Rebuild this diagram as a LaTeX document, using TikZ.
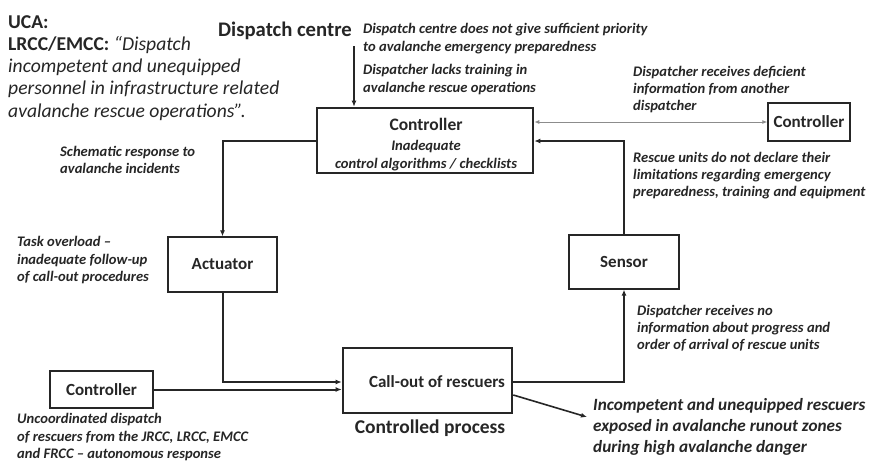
\documentclass[tikz,border=0pt]{standalone}
\usepackage{fontspec}
\setmainfont{Carlito}
\usetikzlibrary{arrows.meta}
\definecolor{ink}{HTML}{262626}
\definecolor{thin}{HTML}{8C8C8C}
\tikzset{
  heavybox/.style={draw=ink, line width=2.6pt, inner sep=0pt},
  lightbox/.style={draw=ink, line width=1.3pt, inner sep=0pt},
  boxtext/.style={inner sep=0pt, text=ink, font=\fontsize{17}{20}\selectfont\bfseries},
  flow/.style={draw=ink, line width=2pt, -{Latex[length=6pt,width=5pt]}},
  infoline/.style={draw=thin, line width=0.9pt, {Latex[length=5pt,width=4pt]}-{Latex[length=5pt,width=4pt]}},
  note/.style={anchor=north west, inner sep=0pt, align=left, text=ink,
    font=\fontsize{14.6}{#1}\selectfont\bfseries\itshape},
  note/.default=17.5,
}
\begin{document}
\begin{tikzpicture}[x=1pt,y=-1pt]
\useasboundingbox[fill=white] (0,0) rectangle (870,461);

% control structure boxes
\node[heavybox, minimum width=216pt, minimum height=65pt] (ctrl) at (425,140.5) {};
\node[lightbox, minimum width=109pt, minimum height=55pt] (act) at (222.5,264.5) {};
\node[lightbox, minimum width=110pt, minimum height=54pt] (sens) at (624,262) {};
\node[lightbox, minimum width=82pt, minimum height=38pt] (rctrl) at (809,122) {};
\node[lightbox, minimum width=103pt, minimum height=37pt] (lctrl) at (101.5,389.5) {};
\node[heavybox, minimum width=169pt, minimum height=65pt] (proc) at (427.5,380.5) {};

% box labels
\node[boxtext, font=\fontsize{17.5}{20}\selectfont\bfseries] (ctrl-title) at (426,124) {Controller};
\node[inner sep=0pt, align=center, text=ink, font=\fontsize{14.6}{18}\selectfont\bfseries\itshape]
  (ctrl-flaw) at (426,156) {Inadequate\\control algorithms / checklists};
\node[boxtext] (act-title) at (act) {Actuator};
\node[boxtext] (sens-title) at (sens) {Sensor};
\node[boxtext] (rctrl-title) at (rctrl) {Controller};
\node[boxtext] (lctrl-title) at (lctrl) {Controller};
\node[boxtext] (proc-title) at (437,382) {Call-out of rescuers};
\node[inner sep=0pt, text=ink, font=\fontsize{19.5}{22}\selectfont\bfseries]
  (proc-caption) at (430,428) {Controlled process};
\node[anchor=west, inner sep=0pt, text=ink, font=\fontsize{20.7}{22}\selectfont\bfseries]
  (centre) at (218,31) {Dispatch centre};

% unsafe control action statement
\node[anchor=north west, inner sep=0pt, align=left, text=ink,
  font=\fontsize{19.6}{22.3}\selectfont] (uca) at (8,15)
  {\textbf{UCA:}\\\textbf{LRCC/EMCC:} \textit{“Dispatch}\\
   \textit{incompetent and unequipped}\\
   \textit{personnel in infrastructure related}\\
   \textit{avalanche rescue operations”.}};

% causal factors
\node[note=18] (f1) at (363,23.5) {Dispatch centre does not give sufficient priority\\to avalanche emergency preparedness};
\node[note=18] (f2) at (363,64.5) {Dispatcher lacks training in\\avalanche rescue operations};
\node[note=17] (f3) at (633,66.5) {Dispatcher receives deficient\\information from another\\dispatcher};
\node[note=17] (f4) at (633,152.5) {Rescue units do not declare their\\limitations regarding emergency\\preparedness, training and equipment};
\node[note=17] (f5) at (60,146.5) {Schematic response to\\avalanche incidents};
\node[note=17.5] (f6) at (17,236.5) {Task overload --\\inadequate follow-up\\of call-out procedures};
\node[note=17] (f7) at (637,305.5) {Dispatcher receives no\\information about progress and\\order of arrival of rescue units};
\node[note=17.5] (f8) at (17,413.5) {Uncoordinated dispatch\\of rescuers from the JRCC, LRCC, EMCC\\and FRCC -- autonomous response};
\node[anchor=north west, inner sep=0pt, align=left, text=ink,
  font=\fontsize{17.2}{21}\selectfont\bfseries\itshape] (hazard) at (593,398)
  {Incompetent and unequipped rescuers\\exposed in avalanche runout zones\\during high avalanche danger};

% connectors
\coordinate (dsrc) at (354,46);
\draw[flow] (dsrc) -- (dsrc |- ctrl.north);
\draw[infoline] (ctrl.east |- rctrl.west) -- (rctrl.west);
\coordinate (fb) at (624,141);
\draw[flow] (sens.north) -- (fb) -- (ctrl.east |- fb);
\coordinate (ca) at (222.5,141);
\draw[flow] (ctrl.west |- ca) -- (ca) -- (act.north);
\coordinate (cb) at (222.5,382);
\draw[flow] (act.south) -- (cb) -- (proc.west |- cb);
\draw[flow] (lctrl.east) -- (proc.west |- lctrl.east);
\coordinate (cc) at (624,382);
\draw[flow] (proc.east |- cc) -- (cc) -- (sens.south);
\coordinate (hz) at (587,417);
\draw[flow, line width=1.6pt] (proc.east |- 0,395) -- (hz);
\end{tikzpicture}
\end{document}
